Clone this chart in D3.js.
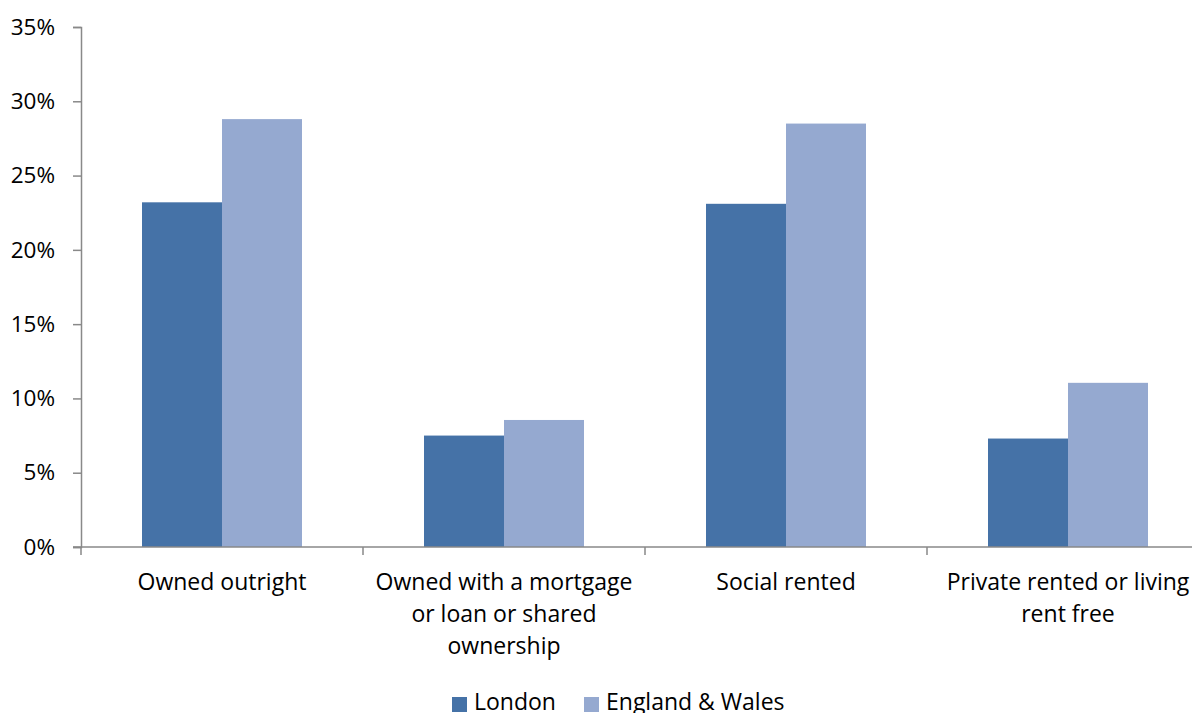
<!DOCTYPE html>
<html>
<head>
<meta charset="utf-8">
<script src="https://cdn.jsdelivr.net/npm/d3@7"></script>
<style>
  html, body { margin: 0; padding: 0; background: #fff; }
  svg { display: block; font-family: "Open Sans", "Noto Sans", sans-serif; }
</style>
</head>
<body>
<svg id="chart" width="1192" height="713"></svg>
<script>
// Household tenure shares, London vs England & Wales
const categories = [
  ["Owned outright"],
  ["Owned with a mortgage", "or loan or shared", "ownership"],
  ["Social rented"],
  ["Private rented or living", "rent free"]
];
const seriesNames = ["London", "England & Wales"];
const london = [23.2, 7.5, 23.1, 7.3];
const englandWales = [28.8, 8.55, 28.5, 11.05];
const yTicks = [0, 5, 10, 15, 20, 25, 30, 35];
const colors = ["#4572A7", "#95A9D0"];

(function draw() {
  const svg = d3.select("#chart");
  const plotLeft = 81, plotTop = 27, plotBottom = 547, step = 282;
  const fontSize = 23;

  const x0 = d3.scaleBand()
    .domain(d3.range(categories.length))
    .range([plotLeft, plotLeft + step * categories.length])
    .paddingInner(0).paddingOuter(0);

  const x1 = d3.scaleBand()
    .domain(seriesNames)
    .range([0, x0.bandwidth()])
    .paddingInner(0).paddingOuter(0.7625);

  const y = d3.scaleLinear().domain([0, 35]).range([plotBottom, plotTop]);

  const values = [london, englandWales];

  // bars
  const groups = svg.append("g").selectAll("g")
    .data(categories.map((c, i) => i))
    .join("g")
    .attr("transform", i => `translate(${x0(i)},0)`);

  groups.selectAll("rect")
    .data(i => seriesNames.map((s, k) => ({ s, k, v: values[k][i] })))
    .join("rect")
    .attr("x", d => x1(d.s))
    .attr("width", x1.bandwidth())
    .attr("y", d => y(d.v))
    .attr("height", d => y(0) - y(d.v))
    .attr("fill", d => colors[d.k]);

  // y axis
  const yAxis = svg.append("g")
    .attr("transform", `translate(${plotLeft},0)`)
    .call(d3.axisLeft(y).tickValues(yTicks).tickFormat(d => d + "%").tickSizeOuter(0).tickSize(8).tickPadding(18));
  yAxis.select(".domain").attr("stroke", "#898989").attr("stroke-width", 1.5);
  yAxis.selectAll(".tick line").attr("stroke", "#898989").attr("stroke-width", 1.5);
  yAxis.selectAll("text").attr("font-size", 22.5).attr("fill", "#000").attr("font-family", "Open Sans");

  // x axis baseline and category separators
  const xAxisG = svg.append("g");
  xAxisG.append("line")
    .attr("x1", plotLeft - 8).attr("x2", plotLeft + step * categories.length)
    .attr("y1", y(0)).attr("y2", y(0))
    .attr("stroke", "#898989").attr("stroke-width", 1.5);
  xAxisG.selectAll("line.sep")
    .data(d3.range(categories.length + 1))
    .join("line")
    .attr("class", "sep")
    .attr("x1", i => plotLeft + step * i).attr("x2", i => plotLeft + step * i)
    .attr("y1", y(0)).attr("y2", y(0) + 8)
    .attr("stroke", "#898989").attr("stroke-width", 1.5);

  // category labels
  const labels = svg.append("g").selectAll("text")
    .data(categories)
    .join("text")
    .attr("text-anchor", "middle")
    .attr("font-size", fontSize)
    .attr("fill", "#000");
  labels.each(function(lines, i) {
    d3.select(this).selectAll("tspan")
      .data(lines)
      .join("tspan")
      .attr("x", x0(i) + x0.bandwidth() / 2)
      .attr("y", (d, j) => 590 + j * 32)
      .text(d => d);
  });

  // legend
  const legend = svg.append("g");
  const legendPos = [452, 584];
  seriesNames.forEach((s, k) => {
    legend.append("rect")
      .attr("x", legendPos[k]).attr("y", 697)
      .attr("width", 15).attr("height", 15)
      .attr("fill", colors[k]);
    legend.append("text")
      .attr("x", legendPos[k] + 22).attr("y", 710)
      .attr("font-size", fontSize).attr("fill", "#000")
      .text(s);
  });
})();
</script>
</body>
</html>
